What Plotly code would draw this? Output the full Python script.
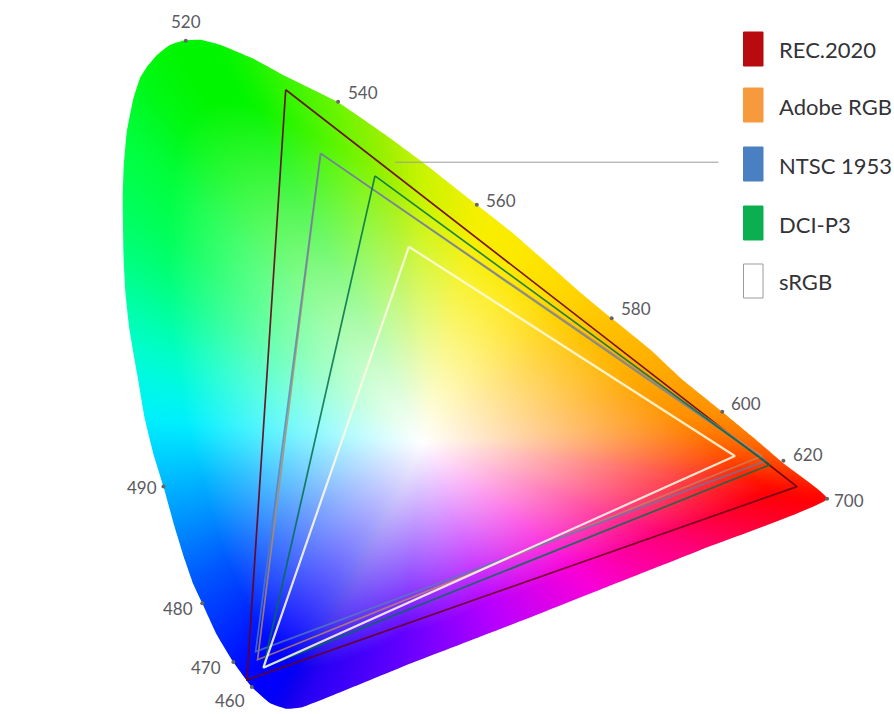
import numpy as np
import plotly.graph_objects as go

# Spectral locus (chromaticity x, y), with its colour
locus_x = [.735,.692,.656,.627,.584,.553,.513,.482,.449,.413,.374,.315,.281,.230,.178,.143,.109,.089,.071,.058,.044,.035,.027,.020,.013,.010,.009,.010,.012,.016,.024,.032,.041,.051,.062,.073,.082,.091,.106,.123,.142,.161,.178,.194,.295,.398,.501,.604]
locus_y = [.265,.307,.344,.373,.415,.450,.489,.520,.555,.593,.630,.686,.716,.758,.789,.812,.829,.835,.834,.829,.816,.803,.788,.762,.719,.677,.636,.561,.518,.475,.419,.363,.319,.280,.232,.189,.158,.135,.096,.062,.031,.011,.004,.006,.055,.103,.152,.201]
locus_rgb = [(255,0,0),(255,70,0),(255,120,0),(255,145,0),(255,165,0),(255,180,0),(255,195,0),(255,210,0),(255,225,0),(252,235,0),(245,240,0),(200,245,0),(160,240,0),(110,245,0),(60,245,0),(30,245,0),(0,245,0),(0,245,0),(0,245,0),(0,245,0),(0,248,10),(0,248,15),(0,250,20),(0,250,40),(0,255,60),(0,255,75),(0,255,90),(0,255,130),(0,255,160),(0,255,190),(0,250,225),(0,240,255),(0,210,255),(0,180,255),(0,145,255),(0,110,255),(0,85,255),(0,70,255),(0,45,255),(0,20,255),(0,0,255),(0,0,250),(20,0,235),(40,0,245),(100,0,255),(185,0,255),(250,0,215),(255,0,120)]
white_x, white_y = .318, .335

wavelengths = ["520","540","560","580","600","620","700","490","480","470","460"]
wave_x = [.074,.231,.374,.513,.627,.690,.735,.051,.091,.123,.142]
wave_y = [.834,.758,.630,.489,.373,.312,.265,.280,.135,.062,.031]
wave_dx = [0,25,24,24,24,25,22,-21,-24,-27,-22]
wave_dy = [19,9,4,10,8,6,-2,-1,-5,-5,-13]

gamuts = ["REC.2020","Adobe RGB","NTSC 1953","DCI-P3","sRGB"]
gamut_x = [[.177,.704,.137],[.213,.668,.148],[.213,.672,.146],[.269,.676,.154],[.304,.640,.154]]
gamut_y = [[.773,.280,.040],[.694,.318,.065],[.694,.312,.075],[.666,.307,.055],[.578,.318,.055]]
line_colors = ["rgba(105,0,25,0.9)","rgba(190,135,95,0.8)","rgba(85,125,180,0.75)","rgba(0,110,75,0.85)","rgba(255,250,225,0.88)"]
line_widths = [1.7,1.7,1.7,1.7,2.2]
swatch_colors = ["#B80A0F","#F79A3E","#4A7FC1","#0BAF4F","#FFFFFF"]
swatch_lines = ["#B80A0F","#F79A3E","#4A7FC1","#0BAF4F","#9A9A9A"]

XR = [-.1175, .804]
YR = [-.0025, .8845]
W, H = 894, 714

# Colour field
lx, ly = np.array(locus_x), np.array(locus_y)
ang = np.arctan2(ly - white_y, lx - white_x)
rad = np.hypot(lx - white_x, ly - white_y)
cols = np.array(locus_rgb, float)
o = np.argsort(ang)
a2 = np.r_[ang[o][-1] - 2*np.pi, ang[o], ang[o][0] + 2*np.pi]
r2 = np.r_[rad[o][-1], rad[o], rad[o][0]]
c2 = np.vstack([cols[o][-1], cols[o], cols[o][0]])

# lightly smoothed hue table over angle
tab_a = np.linspace(-np.pi, np.pi, 1440, endpoint=False)
kern = np.ones(15) / 15
tab_c = np.zeros((1440, 3))
for i in range(3):
    v = np.interp(tab_a, a2, c2[:, i])
    tab_c[:, i] = np.convolve(np.r_[v[-7:], v, v[:7]], kern, mode="valid")
tab_r = np.interp(tab_a, a2, r2)

step = 2
xs = XR[0] + (np.arange(0, W, step) + step/2) / W * (XR[1]-XR[0])
ys = YR[0] + (np.arange(0, H, step) + step/2) / H * (YR[1]-YR[0])
gx, gy = np.meshgrid(xs, ys)
th = np.arctan2(gy - white_y, gx - white_x)
rr = np.hypot(gx - white_x, gy - white_y)
Rm = np.interp(th, tab_a, tab_r, period=2*np.pi)
s = np.clip(rr / Rm / 0.85, 0, 1) ** 1.05
img = np.zeros(gx.shape + (3,))
for i in range(3):
    img[..., i] = 255 * (1 - s) + np.interp(th, tab_a, tab_c[:, i], period=2*np.pi) * s
img = np.clip(img, 0, 255).astype(int)

fig = go.Figure()
fig.add_trace(go.Image(z=img.tolist(), x0=xs[0], y0=ys[0],
                       dx=xs[1]-xs[0], dy=ys[1]-ys[0], zsmooth="fast", hoverinfo="skip"))

# White surround with a locus-shaped hole
xo = [-1, -1, 2, 2, -1]
yo = [-1, 2, 2, -1, -1]
signed = np.sum(lx*np.roll(ly, -1) - np.roll(lx, -1)*ly)
lxx, lyy = (list(lx), list(ly)) if signed > 0 else (list(lx[::-1]), list(ly[::-1]))
fig.add_trace(go.Scatter(x=xo + [None] + lxx + [lxx[0]], y=yo + [None] + lyy + [lyy[0]],
                         mode="lines", fill="toself", fillcolor="white",
                         line=dict(width=0, color="white", shape="spline", smoothing=0.35),
                         hoverinfo="skip", showlegend=False))

for name, gx_, gy_, c, w in zip(gamuts, gamut_x, gamut_y, line_colors, line_widths):
    fig.add_trace(go.Scatter(x=gx_ + gx_[:1], y=gy_ + gy_[:1], mode="lines", name=name,
                             line=dict(color=c, width=w), showlegend=False))

fig.add_trace(go.Scatter(x=[.290, .623], y=[.683, .683], mode="lines",
                         line=dict(color="#9a9a9a", width=1), showlegend=False, hoverinfo="skip"))
fig.add_trace(go.Scatter(x=wave_x, y=wave_y, mode="markers", text=wavelengths,
                         marker=dict(color="#666", size=4), showlegend=False))

anns = []
for t, x, y, dx, dy in zip(wavelengths, wave_x, wave_y, wave_dx, wave_dy):
    anns.append(dict(x=x, y=y, text=t, showarrow=False, xshift=dx, yshift=dy,
                     font=dict(family="Lato", size=17, color="#5a5a60")))

shapes = []
tops = [32, 88, 147, 206, 264]
for name, top, fc, lc in zip(gamuts, tops, swatch_colors, swatch_lines):
    shapes.append(dict(type="rect", xref="paper", yref="paper", x0=743.5/W, x1=763/W,
                       y0=1-(top+34)/H, y1=1-top/H, fillcolor=fc, line=dict(color=lc, width=1)))
    anns.append(dict(xref="paper", yref="paper", x=777/W, y=1-(top+18)/H, xanchor="left", yanchor="middle",
                     text=name, showarrow=False, font=dict(family="Lato", size=22, color="#333338")))

fig.update_layout(width=W, height=H, margin=dict(l=0, r=0, t=0, b=0),
                  paper_bgcolor="white", plot_bgcolor="white", showlegend=False,
                  shapes=shapes, annotations=anns,
                  xaxis=dict(range=XR, visible=False, fixedrange=True),
                  yaxis=dict(range=YR, visible=False, fixedrange=True, autorange=False, scaleanchor=False))
fig.write_html("out.html", config=dict(displayModeBar=False),
               post_script="document.body.style.margin='0';document.body.style.overflow='hidden';")
